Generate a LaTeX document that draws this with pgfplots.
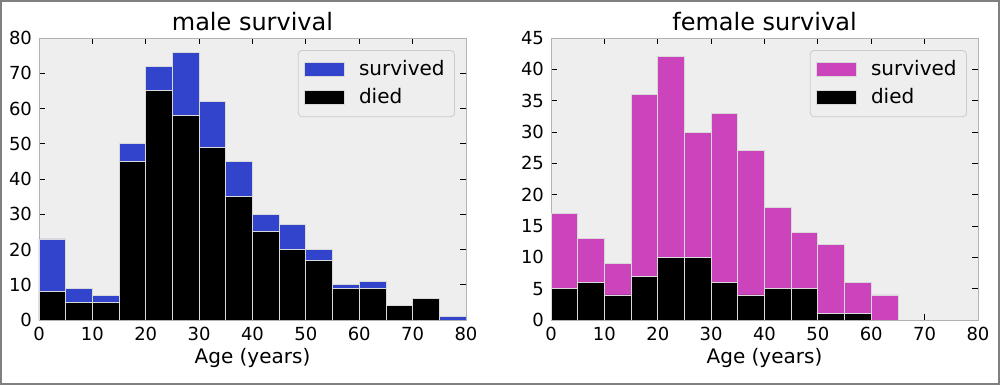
\documentclass[border=0pt]{standalone}
\usepackage{pgfplots}
\pgfplotsset{compat=1.18}
\usepackage{fontspec}
\setmainfont{DejaVu Sans}
\definecolor{mblue}{RGB}{51,68,204}
\definecolor{fmag}{RGB}{204,68,187}
\definecolor{bgg}{RGB}{238,238,238}
\pgfplotsset{
  histax/.style={
    scale only axis, width=213.5pt, height=141pt,
    anchor=south west,
    xmin=0, xmax=80, ymin=0,
    xtick={0,10,...,80},
    ybar stacked, bar width=5,
    axis background/.style={fill=bgg},
    axis line style={black!30},
    tick align=inside, major tick length=3pt,
    tick style={black, thin},
    xtick pos=both, ytick pos=both,
    xticklabel pos=lower, yticklabel pos=left,
    minor tick num=0,
    ticklabel style={font=\fontsize{9}{10}\selectfont},
    /pgf/number format/assume math mode=true,
    title style={at={(0.5,1)}, anchor=base, yshift=-2pt, inner sep=0pt, font=\fontsize{12}{14}\selectfont},
    xlabel={Age (years)},
    xlabel style={at={(axis description cs:0.5,0)}, anchor=base, yshift=-22pt, inner sep=0pt, font=\fontsize{10}{12}\selectfont},
    legend style={at={(1,1)}, xshift=-5.5pt, yshift=-6pt, anchor=north east,
      fill=bgg, draw=black!20, rounded corners=2pt,
      font=\fontsize{10}{12}\selectfont, row sep=1pt, inner xsep=3pt, inner ysep=3pt,
      /tikz/every odd column/.append style={column sep=5pt}},
    legend cell align=left,
    reverse legend,
    legend image code/.code={\fill[##1, sharp corners] (0pt,-3.2pt) rectangle (20pt,3.6pt);},
    every axis plot/.append style={draw=white!85!black, line width=0.4pt},
  }
}
\begin{document}
\begin{tikzpicture}
\useasboundingbox (0,0) rectangle (500pt,192.5pt);
\draw[black!50, line width=0.8pt] (0.4pt,0.4pt) rectangle (499.6pt,192.1pt);
\begin{axis}[histax, at={(19.5pt,32.5pt)}, ymax=80, ytick={0,10,...,80}, title={male survival}]
\addplot[fill=black] coordinates {(2.5,8) (7.5,5) (12.5,5) (17.5,45) (22.5,65) (27.5,58) (32.5,49) (37.5,35) (42.5,25) (47.5,20) (52.5,17) (57.5,9) (62.5,9) (67.5,4) (72.5,6) (77.5,0)};
\addlegendentry{died}
\addplot[fill=mblue] coordinates {(2.5,15) (7.5,4) (12.5,2) (17.5,5) (22.5,7) (27.5,18) (32.5,13) (37.5,10) (42.5,5) (47.5,7) (52.5,3) (57.5,1) (62.5,2) (67.5,0) (72.5,0) (77.5,1)};
\addlegendentry{survived}
\end{axis}
\begin{axis}[histax, at={(275.5pt,32.5pt)}, ymax=45, ytick={0,5,...,45}, title={female survival}]
\addplot[fill=black] coordinates {(2.5,5) (7.5,6) (12.5,4) (17.5,7) (22.5,10) (27.5,10) (32.5,6) (37.5,4) (42.5,5) (47.5,5) (52.5,1) (57.5,1) (62.5,0) (67.5,0) (72.5,0) (77.5,0)};
\addlegendentry{died}
\addplot[fill=fmag] coordinates {(2.5,12) (7.5,7) (12.5,5) (17.5,29) (22.5,32) (27.5,20) (32.5,27) (37.5,23) (42.5,13) (47.5,9) (52.5,11) (57.5,5) (62.5,4) (67.5,0) (72.5,0) (77.5,0)};
\addlegendentry{survived}
\end{axis}
\end{tikzpicture}
\end{document}
